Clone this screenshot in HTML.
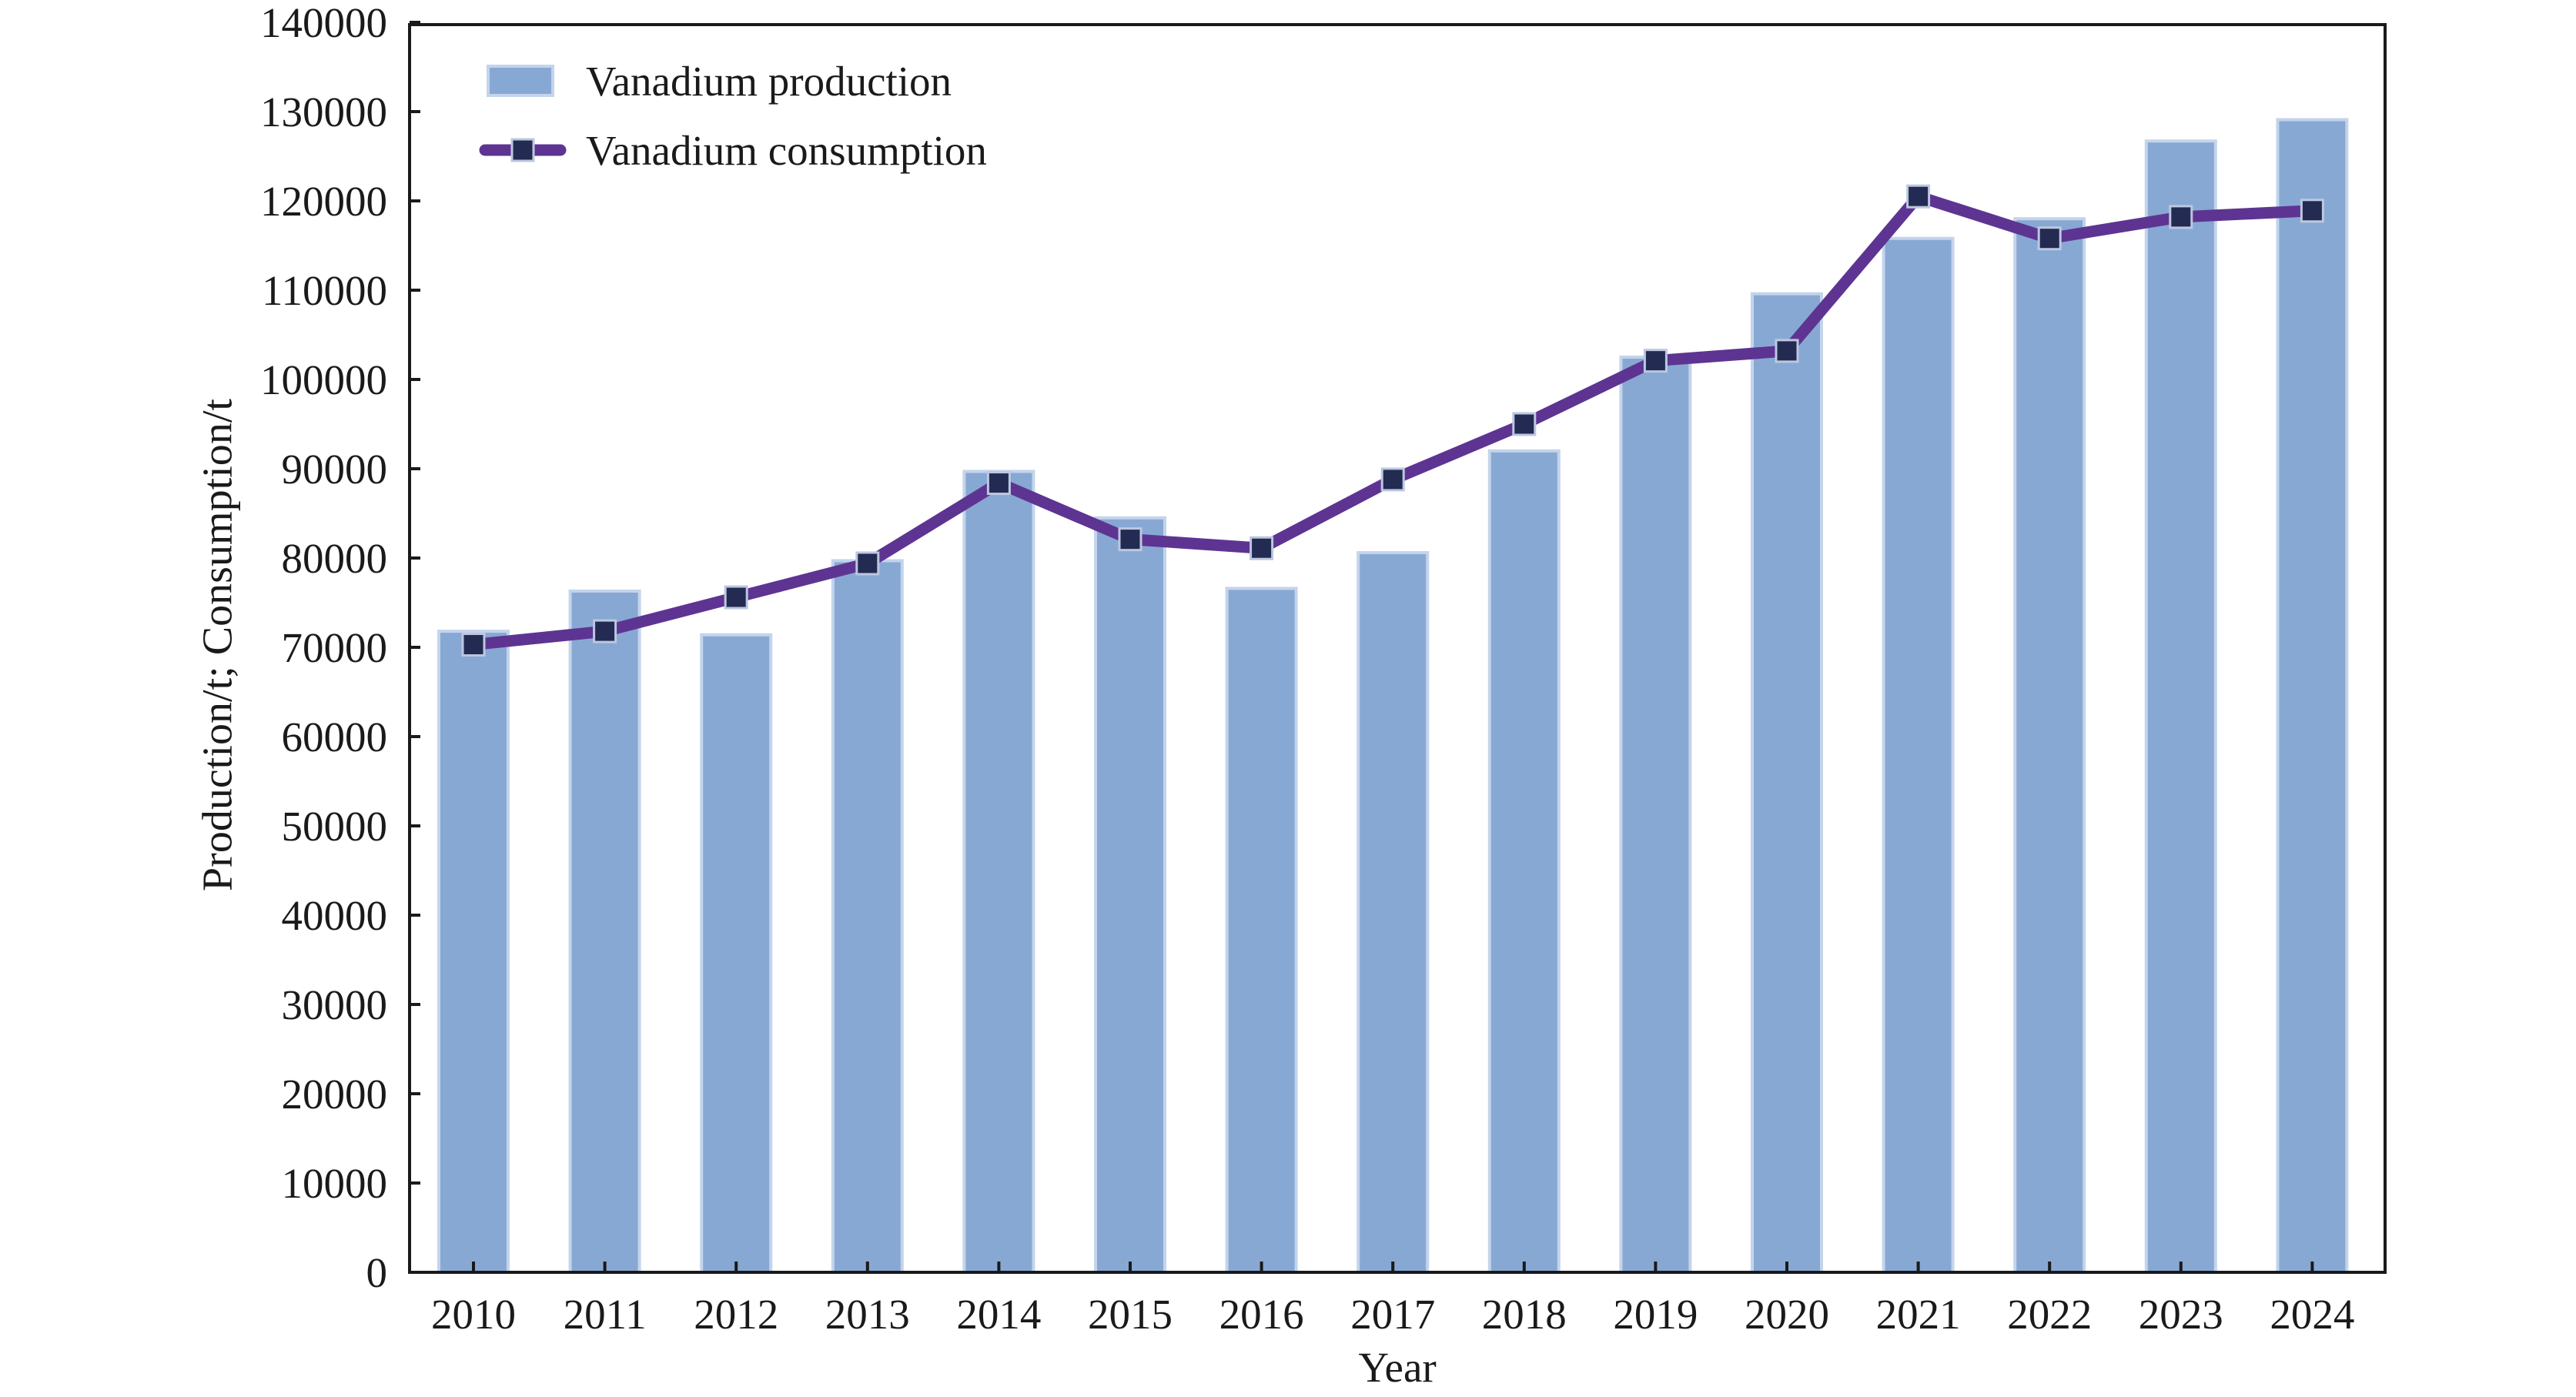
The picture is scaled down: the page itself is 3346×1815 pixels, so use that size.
<!DOCTYPE html>
<html><head><meta charset="utf-8"><style>html,body{margin:0;padding:0;background:#fff}svg{display:block}</style></head>
<body>
<svg width="3346" height="1815" viewBox="0 0 3346 1815" xmlns="http://www.w3.org/2000/svg" font-family="Liberation Serif, serif" fill="#1a1a1a">
<g id="bars" fill="#88a8d4" stroke="#c3d4eb" stroke-width="4"></g>
<g id="line"></g>
<rect x="532" y="32" width="2566" height="1621" fill="none" stroke="#1a1a1a" stroke-width="4"/>
<g id="ticks" stroke="#1a1a1a" stroke-width="4"></g>
<g id="labels" font-size="55"></g>
<text x="282" y="838" font-size="55" text-anchor="middle" dominant-baseline="central" transform="rotate(-90 282 838)" textLength="640" lengthAdjust="spacingAndGlyphs">Production/t; Consumption/t</text>
<text x="1815" y="1795" font-size="55" text-anchor="middle">Year</text>
<rect x="634" y="86" width="84" height="38" fill="#88a8d4" stroke="#c3d4eb" stroke-width="4"/>
<text x="761" y="124" font-size="55">Vanadium production</text>
<line x1="630" y1="195" x2="728" y2="195" stroke="#5e3492" stroke-width="15" stroke-linecap="round"/>
<rect x="665" y="181" width="28" height="28" fill="#232b52" stroke="#bcc8e0" stroke-width="3"/>
<text x="761" y="214" font-size="55">Vanadium consumption</text>
<script>
var prod=[71800,76300,71400,79700,89700,84500,76600,80600,92000,102500,109600,115800,118000,126700,129100];
var cons=[70300,71800,75600,79400,88400,82100,81100,88800,95000,102100,103200,120500,115800,118200,118900];
function Y(v){return 1653-v*0.0116;}
function X(i){return 615+i*170.6;}
var ns="http://www.w3.org/2000/svg";
function el(p,t,a,txt){var e=document.createElementNS(ns,t);for(var k in a)e.setAttribute(k,a[k]);if(txt!==undefined)e.textContent=txt;document.getElementById(p).appendChild(e);return e;}
prod.forEach(function(v,i){el("bars","rect",{x:X(i)-45,y:Y(v),width:90,height:1653-Y(v)});});
var pts=cons.map(function(v,i){return X(i)+","+Y(v);}).join(" ");
el("line","polyline",{points:pts,fill:"none",stroke:"#5e3492","stroke-width":15,"stroke-linejoin":"round"});
cons.forEach(function(v,i){el("line","rect",{x:X(i)-14,y:Y(v)-14,width:28,height:28,fill:"#232b52",stroke:"#bcc8e0","stroke-width":3});});
for(var k=0;k<=14;k++){var y=Y(k*10000);
 el("ticks","line",{x1:532,y1:y,x2:546,y2:y});
 el("labels","text",{x:503,y:y+19,"text-anchor":"end"},String(k*10000));}
for(var i=0;i<15;i++){el("ticks","line",{x1:X(i),y1:1653,x2:X(i),y2:1639});
 el("labels","text",{x:X(i),y:1726,"text-anchor":"middle"},String(2010+i));}
</script>
</svg>
</body></html>
